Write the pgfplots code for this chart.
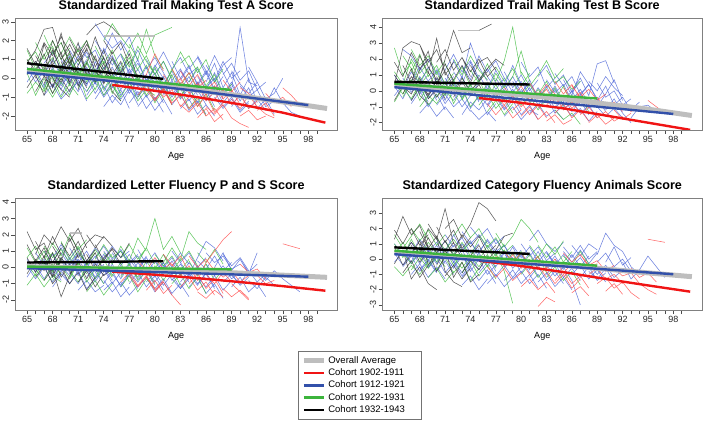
\documentclass[border=0pt]{standalone}
\usepackage{pgfplots}
\pgfplotsset{compat=1.18}
\usepackage{fontspec}
\setmainfont{Liberation Sans}
\definecolor{spblue}{RGB}{75,100,215}
\definecolor{spgreen}{RGB}{70,190,70}
\definecolor{spred}{RGB}{255,80,80}
\definecolor{spblack}{RGB}{50,50,50}
\definecolor{tred}{RGB}{240,20,20}
\definecolor{tblue}{RGB}{50,80,170}
\definecolor{tgreen}{RGB}{60,180,60}
\definecolor{tgray}{RGB}{190,190,190}
\pgfplotsset{
  panel/.style={
    scale only axis,
    xmin=63.59, xmax=101.4,
    xtick={65,68,...,98},
    minor xtick={65,...,99},
    tick align=outside,
    tick pos=left,
    major tick length=4pt, minor tick length=4pt,
    every tick/.style={black!70, line width=0.5pt},
    axis line style={black!50, line width=0.7pt},
    tick label style={font=\fontsize{9}{10}\selectfont, text=black!85},
    /pgf/number format/assume math mode=true,
    yticklabel style={rotate=90, anchor=south, inner sep=2pt},
    xticklabel style={inner sep=2pt},
    xlabel={Age},
    xlabel style={at={(axis description cs:0.5,0)}, anchor=center, yshift=-26pt, font=\fontsize{9}{10}\selectfont},
    title style={at={(axis description cs:0.5,1)}, anchor=base, yshift=2.5pt, font=\bfseries\fontsize{12.6}{14}\selectfont},
    unbounded coords=jump,
  },
  spB/.style={forget plot, line width=0.55pt, color=spblue, opacity=0.8},
  spG/.style={forget plot, line width=0.55pt, color=spgreen, opacity=0.85},
  spR/.style={forget plot, line width=0.55pt, color=spred, opacity=0.85},
  spK/.style={forget plot, line width=0.55pt, color=spblack, opacity=0.8},
  spY/.style={forget plot, line width=1.5pt, color=black!30, opacity=0.8},
  trGray/.style={line width=5pt, color=tgray},
  trR/.style={line width=2.4pt, color=tred},
  trB/.style={line width=2.4pt, color=tblue},
  trG/.style={line width=2.4pt, color=tgreen},
  trK/.style={line width=2.4pt, color=black},
}
\begin{document}
\begin{tikzpicture}
\path[use as bounding box] (0,0) rectangle (705pt,421pt);
% ---------------- Panel 1: TMT A
\begin{axis}[panel, at={(15pt,291pt)}, width=322.3pt, height=112pt,
  ymin=-2.74, ymax=3.2, ytick={-2,...,3},
  title={Standardized Trail Making Test A Score}]
\addplot[spB] coordinates {(65,0.6)(66,-0.2)(67,0.4)(68,-0.5)(69,0.2)(70,-0.3) (0,nan)
(70,1.5)(71,0.7)(72,1.4)(73,0.4)(74,1.1)(75,0.0)(76,0.8) (0,nan)
(73,2.0)(74,1.3)(75,2.4)(76,1.5)(77,2.2)(78,0.9) (0,nan)
(75,-0.5)(76,0.2)(77,-0.8)(78,-0.1)(79,-1.0)(80,-0.4)(81,-1.3) (0,nan)
(78,0.8)(79,-0.1)(80,0.5)(81,-0.3)(82,0.4)(83,-0.6)(84,0.1)(85,-0.9) (0,nan)
(80,-1.1)(81,-0.5)(82,-1.4)(83,-0.8)(84,-1.7)(85,-1.2)(86,-1.9) (0,nan)
(84,0.5)(85,1.1)(86,0.2)(87,1.2)(88,0.3)(89,-0.6)(90,2.7)(91,-0.2)(92,-0.4) (0,nan)
(86,-0.2)(87,0.8)(88,-0.5)(89,0.3)(90,-0.9)(91,0.0)(92,-1.3) (0,nan)
(88,-0.9)(89,-0.3)(90,-1.2)(91,-0.5)(92,-1.6)(93,-1.1)(94,-1.9) (0,nan)
(91,0.6)(92,-0.2)(93,-1.1)(94,-0.8)(95,0.0) (0,nan)
(93,-1.4)(94,-0.5)(95,-1.3)(96,-1.8)(97,-2.0) (0,nan)
(67,-0.9)(68,-0.3)(69,-1.1)(70,-0.6)(71,-0.2)(72,-1.2) (0,nan)
(71,0.3)(72,-0.4)(73,0.9)(74,0.0)(75,0.6)(76,-0.3) (0,nan)
(76,1.2)(77,0.3)(78,1.0)(79,-0.2)(80,0.7)(81,0.0) (0,nan)
(82,0.9)(83,0.0)(84,0.7)(85,-0.4)(86,0.3)(87,-0.7) (0,nan)
(77,-1.3)(78,-0.7)(79,-1.6)(80,-1.0)(81,-1.8) (0,nan)
(69,1.0)(70,0.2)(71,1.2)(72,0.4)(73,-0.3)(74,0.6) (0,nan)
(74,-1.5)(75,-0.9)(76,-1.4)(77,-0.6)(78,-1.1) (0,nan)
(85,1.2)(86,0.4)(87,-0.2)(88,0.7)(89,1.1) (0,nan)
(89,0.4)(90,-0.3)(91,-0.8)(92,-0.2)};
\addplot[spB] coordinates {(66,0.9)(67,0.2)(68,1.0)(69,0.1)(70,0.8)(71,-0.1) (0,nan)
(72,-0.9)(73,-0.2)(74,-1.0)(75,-0.4)(76,-1.1)(77,-0.5)(78,-1.4) (0,nan)
(74,0.5)(75,1.2)(76,0.3)(77,0.9)(78,-0.2)(79,0.6)(80,-0.5) (0,nan)
(76,-0.3)(77,0.5)(78,-0.5)(79,0.2)(80,-0.7)(81,0.1)(82,-0.9)(83,-0.2) (0,nan)
(79,1.0)(80,0.2)(81,0.9)(82,-0.1)(83,0.5)(84,-0.4) (0,nan)
(81,-0.9)(82,-0.2)(83,-1.1)(84,-0.5)(85,-1.3)(86,-0.6)(87,-1.5) (0,nan)
(83,-1.6)(84,-1.1)(85,-1.9)(86,-1.4)(87,-2.0) (0,nan)
(85,0.1)(86,-0.6)(87,0.3)(88,-0.8)(89,-0.2)(90,-1.0) (0,nan)
(87,-1.0)(88,-1.6)(89,-1.1)(90,-1.8)(91,-1.3) (0,nan)
(73,2.9)(74,2.2)(75,1.6)(76,2.0)(77,1.2) (0,nan)
(90,-0.4)(91,-1.0)(92,-0.6)(93,-1.5)(94,-1.2) (0,nan)
(68,0.3)(69,-0.6)(70,0.5)(71,-0.4)(72,0.6)(73,-0.3)};
\addplot[spB] coordinates {(68,-0.1)(69,0.7)(70,-0.2)(71,0.6)(72,-0.3)(73,0.4)(74,-0.5) (0,nan)
(70,-0.8)(71,-0.1)(72,-0.7)(73,0.1)(74,-0.9)(75,-0.2) (0,nan)
(72,0.9)(73,0.1)(74,1.6)(75,0.7)(76,1.3)(77,0.2)(78,0.8) (0,nan)
(75,0.3)(76,-0.6)(77,0.1)(78,-0.9)(79,-0.2)(80,-1.2)(81,-0.4) (0,nan)
(77,0.6)(78,1.5)(79,0.5)(80,1.1)(81,0.3)(82,-0.5) (0,nan)
(79,-0.7)(80,0.0)(81,-0.8)(82,-0.1)(83,-1.0)(84,-0.3) (0,nan)
(82,-0.6)(83,0.4)(84,-0.2)(85,0.5)(86,-0.5)(87,0.0)(88,-1.1) (0,nan)
(84,-0.9)(85,-0.2)(86,-1.1)(87,-0.4)(88,-1.3)(89,-0.7) (0,nan)
(86,0.7)(87,-0.1)(88,0.9)(89,0.0)(90,0.4) (0,nan)
(89,-1.5)(90,-0.8)(91,-1.6)(92,-1.1)(93,-1.7) (0,nan)
(66,0.1)(67,-0.5)(68,0.4)(69,-0.4)(70,0.2) (0,nan)
(73,-1.1)(74,-0.4)(75,-1.3)(76,-0.6)(77,-1.6)};
\addplot[spB] coordinates {(65,-0.2)(66,0.5)(67,-0.4)(68,0.6)(69,-0.3)(70,0.4) (0,nan)
(67,0.8)(68,1.4)(69,0.5)(70,1.2)(71,0.3)(72,1.0) (0,nan)
(69,-0.9)(70,0.0)(71,-0.7)(72,0.1)(73,-0.8)(74,-0.1) (0,nan)
(71,1.8)(72,1.1)(73,1.5)(74,0.5)(75,1.0)(76,0.1) (0,nan)
(74,-0.7)(75,0.1)(76,-0.9)(77,-0.2)(78,-1.0)(79,-0.4) (0,nan)
(76,0.6)(77,-0.2)(78,0.5)(79,-0.4)(80,0.3)(81,-0.6)(82,0.2) (0,nan)
(78,-1.5)(79,-0.9)(80,-1.7)(81,-1.1)(82,-1.9) (0,nan)
(80,0.6)(81,1.4)(82,0.5)(83,1.1)(84,0.2)(85,0.6) (0,nan)
(81,-0.3)(82,-1.0)(83,-0.4)(84,-1.2)(85,-0.6)(86,-1.4) (0,nan)
(83,-0.1)(84,0.6)(85,-0.3)(86,0.4)(87,-0.6)(88,0.1) (0,nan)
(86,-1.2)(87,-0.7)(88,-1.5)(89,-1.0)(90,-1.7)(91,-1.2) (0,nan)
(88,0.2)(89,0.8)(90,-0.1)(91,0.4)(92,-0.6)(93,-0.2)};
\addplot[spG] coordinates {(65,1.5)(66,0.5)(67,1.2)(68,2.0)(69,1.0)(70,1.6) (0,nan)
(65,-0.8)(66,-0.2)(67,-0.7)(68,0.1)(69,-1.0)(70,-0.3)(71,-0.9) (0,nan)
(67,2.3)(68,1.3)(69,1.9)(70,0.8)(71,1.5) (0,nan)
(70,0.3)(71,1.0)(72,-0.2)(73,0.5)(74,-0.6)(75,0.2)(76,-0.8) (0,nan)
(74,2.0)(75,2.9)(76,2.2)(77,1.6)(78,2.4)(79,1.3)(80,2.3)(81,2.5)(82,2.7) (0,nan)
(76,1.3)(77,0.6)(78,1.7)(79,0.9)(80,0.2)(81,0.9)(82,0.0) (0,nan)
(78,0.5)(79,1.2)(80,0.2)(81,-0.4)(82,0.4)(83,1.4)(84,0.6) (0,nan)
(80,0.1)(81,-0.7)(82,0.2)(83,-1.0)(84,-0.3)(85,-1.5)(86,-0.8)(87,-1.7) (0,nan)
(68,-0.2)(69,0.6)(70,-0.4)(71,0.4)(72,-1.1)(73,-0.5) (0,nan)
(72,1.2)(73,0.2)(74,0.9)(75,-0.1)(76,0.6)(77,1.5)(78,0.4) (0,nan)
(83,0.8)(84,1.2)(85,0.3)(86,1.0)(87,-0.2)(88,0.5) (0,nan)
(66,0.4)(67,-0.6)(68,0.5)(69,-0.1)(70,0.7) (0,nan)
(75,-0.3)(76,-1.0)(77,-0.2)(78,-1.2)(79,-0.6)(80,-0.9) (0,nan)
(81,-0.2)(82,-1.2)(83,-0.5)(84,-1.6)(85,-1.0)(86,-2.0) (0,nan)
(69,1.3)(70,2.2)(71,1.4)(72,2.0)(73,0.9) (0,nan)
(77,1.8)(78,1.0)(79,2.6)(80,1.2)(81,0.5)};
\addplot[spG] coordinates {(66,1.9)(67,1.0)(68,1.7)(69,0.6)(70,1.3)(71,0.2) (0,nan)
(71,-0.5)(72,0.3)(73,-0.6)(74,0.4)(75,-0.8)(76,0.1) (0,nan)
(73,1.7)(74,0.8)(75,1.5)(76,0.4)(77,1.1)(78,0.0) (0,nan)
(79,-0.3)(80,0.6)(81,-0.5)(82,0.5)(83,-0.4)(84,0.3)(85,-0.6) (0,nan)
(65,0.3)(66,-0.9)(67,0.0)(68,-0.8)(69,0.2) (0,nan)
(84,-0.2)(85,0.6)(86,-0.4)(87,0.2)(88,-0.9)(89,-0.3) (0,nan)
(77,-0.6)(78,0.2)(79,-0.9)(80,-0.2)(81,-1.1) (0,nan)
(70,0.9)(71,0.1)(72,0.8)(73,-0.1)(74,1.2) (0,nan)
(65,0.9)(66,1.4)(67,0.5)(68,1.1)(69,0.2) (0,nan)
(67,-0.3)(68,-1.0)(69,-0.2)(70,-0.9)(71,0.1) (0,nan)
(69,0.4)(70,1.0)(71,0.2)(72,0.9)(73,-0.2)(74,0.6) (0,nan)
(72,-0.7)(73,0.0)(74,-0.9)(75,-0.3)(76,-1.2) (0,nan)
(75,1.0)(76,0.2)(77,0.9)(78,-0.1)(79,0.7)(80,-0.4) (0,nan)
(78,-1.0)(79,-0.3)(80,-1.3)(81,-0.6)(82,-1.4)};
\addplot[spR] coordinates {(77,0.3)(78,-0.4)(79,0.2)(80,1.3)(81,0.4) (0,nan)
(79,-0.6)(80,-1.2)(81,-0.5)(82,-1.3)(83,-0.9)(84,-1.6)(85,-1.1) (0,nan)
(81,0.2)(82,-0.5)(83,0.0)(84,-0.8)(85,-0.3)(86,-1.2)(87,-0.7) (0,nan)
(83,-1.4)(84,-1.8)(85,-1.3)(86,-2.0)(87,-1.6)(88,-2.2) (0,nan)
(85,-0.2)(86,-0.9)(87,-0.4)(88,-1.1)(89,-0.6)(90,-1.4) (0,nan)
(86,-1.5)(87,-1.9)(88,-1.4)(89,-2.1)(90,-2.4)(91,-2.6) (0,nan)
(88,-0.1)(89,-0.7)(90,-0.2) (0,nan)
(89,-1.1)(90,-1.6)(91,-0.9)(92,-1.5)(93,-1.9)(94,-2.1) (0,nan)
(90,-0.5)(91,-0.8)(92,-1.2)(93,-1.0) (0,nan)
(95,-0.5)(96,-0.9)(97,-1.4) (0,nan)
(80,-0.2)(81,-1.0)(82,-0.6)(83,-1.5)(84,-1.0) (0,nan)
(82,0.5)(83,-0.3)(84,0.3)(85,-0.5)(86,-0.1) (0,nan)
(84,-0.7)(85,-1.5)(86,-0.9)(87,-1.8)(88,-1.3) (0,nan)
(92,-1.7)(93,-1.3)(94,-2.0) (0,nan)
(78,-0.9)(79,-0.3)(80,-1.1)(81,-0.6)(82,-1.4) (0,nan)
(83,0.4)(84,-0.4)(85,0.2)(86,-0.6)(87,-0.2)(88,-1.0) (0,nan)
(85,-2.1)(86,-1.6)(87,-2.3)(88,-1.9) (0,nan)
(87,-1.1)(88,-0.6)(89,-1.4)(90,-0.9)(91,-1.6)(92,-1.2) (0,nan)
(90,-2.0)(91,-1.7)(92,-2.2)(93,-2.0) (0,nan)
(93,-0.8)(94,-1.3)(95,-1.0)(96,-1.5)};
\addplot[spK] coordinates {(65,0.8)(66,1.5)(67,2.6)(68,2.7)(69,1.2)(70,0.5) (0,nan)
(65,-0.5)(66,0.2)(67,-0.9)(68,0.3)(69,-0.2)(70,0.6)(71,0.1) (0,nan)
(66,1.2)(67,0.4)(68,2.0)(69,1.0)(70,1.8)(71,0.9)(72,1.5) (0,nan)
(67,-0.3)(68,0.9)(69,2.4)(70,0.6)(71,1.9)(72,0.2) (0,nan)
(68,1.6)(69,0.3)(70,1.1)(71,-0.4)(72,0.8)(73,2.2)(74,1.0) (0,nan)
(65,1.0)(66,0.4)(67,1.3)(68,0.0)(69,-0.6)(70,-1.0) (0,nan)
(72,2.3)(73,2.8)(74,3.0)(75,2.7)(76,2.2) (0,nan)
(69,1.9)(70,0.8)(71,1.6)(72,0.1)(73,1.2)(74,-0.3)(75,0.5) (0,nan)
(66,0.0)(67,1.8)(68,0.7)(69,1.4)(70,-0.2) (0,nan)
(70,2.1)(71,1.2)(72,2.0)(73,0.6)(74,1.5)(75,0.2)(76,0.9)(77,-0.5) (0,nan)
(73,0.4)(74,-0.2)(75,1.1)(76,0.3)(77,1.3)(78,0.0) (0,nan)
(67,0.7)(68,-0.5)(69,0.6)(70,1.4)(71,0.2)(72,-0.3) (0,nan)
(71,-0.6)(72,0.5)(73,-0.2)(74,0.8)(75,-0.7)(76,-1.2) (0,nan)
(65,0.2)(66,0.9)(67,0.1)(68,1.5)(69,0.4) (0,nan)
(65,1.6)(66,0.7)(67,1.9)(68,1.2)(69,2.2)(70,1.4) (0,nan)
(67,0.2)(68,-0.8)(69,0.0)(70,-0.7)(71,0.3)(72,-0.5) (0,nan)
(69,0.9)(70,-0.3)(71,0.7)(72,1.6)(73,0.3)(74,1.1)(75,-0.1) (0,nan)
(66,-0.7)(67,0.1)(68,-0.4)(69,0.5)(70,0.0) (0,nan)
(74,2.0)(75,1.3)(76,1.9)(77,0.7) (0,nan)
(71,1.0)(72,1.8)(73,1.0)(74,0.4)(75,1.4)};
\addplot[spY] coordinates {(74,2.25)(80,2.25)};
\addplot[trGray] coordinates {(65,0.42)(70,0.2)(75,-0.05)(80,-0.33)(85,-0.63)(90,-0.93)(95,-1.25)(100.2,-1.6)};
\addplot[trR] coordinates {(75,-0.35)(80,-0.66)(85,-1.0)(90,-1.38)(95,-1.82)(100,-2.35)};
\addplot[trB] coordinates {(65,0.3)(75,-0.15)(85,-0.67)(98,-1.42)};
\addplot[trG] coordinates {(65,0.5)(89,-0.62)};
\addplot[trK] coordinates {(65,0.8)(81,-0.03)};
\end{axis}
% ---------------- Panel 2: TMT B
\begin{axis}[panel, at={(382.5pt,291pt)}, width=319.5pt, height=112pt,
  ymin=-2.46, ymax=4.58, ytick={-2,...,4},
  title={Standardized Trail Making Test B Score}]
\addplot[spB] coordinates {(65,0.3)(66,-0.5)(67,0.6)(68,-0.2)(69,0.5)(70,-0.6) (0,nan)
(66,2.6)(67,2.2)(68,1.3)(69,2.0)(70,1.0) (0,nan)
(70,1.4)(71,0.4)(72,1.9)(73,0.8)(74,3.0)(75,1.5)(76,0.6) (0,nan)
(72,-0.6)(73,0.2)(74,-1.1)(75,-0.3)(76,-1.5)(77,-0.8) (0,nan)
(75,1.0)(76,0.1)(77,1.3)(78,0.3)(79,1.6)(80,0.4) (0,nan)
(77,-0.4)(78,-1.2)(79,-0.6)(80,-1.5)(81,-0.9)(82,-1.8) (0,nan)
(79,0.6)(80,-0.2)(81,0.7)(82,-0.5)(83,0.3)(84,-0.8) (0,nan)
(82,0.9)(83,1.6)(84,0.4)(85,1.0)(86,-0.1)(87,0.6) (0,nan)
(84,-1.0)(85,-0.4)(86,-1.3)(87,-0.6)(88,-1.5) (0,nan)
(86,0.0)(87,0.8)(88,-0.3)(89,1.7)(90,1.9)(91,0.5) (0,nan)
(88,-0.4)(89,-1.0)(90,-0.2)(91,0.7)(92,-0.6) (0,nan)
(90,-1.2)(91,-0.5)(92,-1.4)(93,-2.0) (0,nan)
(93,-1.7)(94,-1.0)(95,-0.9)(96,-1.3) (0,nan)
(68,-1.4)(69,-0.8)(70,-1.6)(71,-1.0)(72,-1.7) (0,nan)
(71,0.8)(72,0.0)(73,0.9)(74,-0.2)(75,0.5) (0,nan)
(80,1.8)(81,0.9)(82,1.5)(83,0.2)(84,0.8) (0,nan)
(85,0.7)(86,-0.3)(87,1.2)(88,0.4)(89,-0.5)};
\addplot[spB] coordinates {(65,1.0)(66,0.1)(67,1.2)(68,0.4)(69,1.5)(70,0.5) (0,nan)
(67,-0.8)(68,0.0)(69,-1.0)(70,-0.2)(71,-1.2) (0,nan)
(70,0.3)(71,-0.6)(72,0.6)(73,-0.4)(74,0.4)(75,-0.7) (0,nan)
(73,1.6)(74,0.7)(75,2.2)(76,1.2)(77,1.9)(78,0.8) (0,nan)
(76,-1.0)(77,-0.2)(78,-1.1)(79,-0.3)(80,-1.2) (0,nan)
(78,1.2)(79,0.2)(80,1.0)(81,0.0)(82,0.7) (0,nan)
(81,-1.4)(82,-0.8)(83,-1.6)(84,-1.2)(85,-1.8) (0,nan)
(83,-0.5)(84,0.3)(85,-0.7)(86,0.0)(87,-0.9) (0,nan)
(86,-1.6)(87,-1.1)(88,-1.9)(89,-1.3) (0,nan)
(88,0.6)(89,0.0)(90,0.9)(91,0.2)(92,-0.3) (0,nan)
(74,-1.2)(75,-1.8)(76,-1.3)(77,-1.9) (0,nan)
(91,-0.9)(92,-0.4)(93,-1.2)(94,-0.7)};
\addplot[spB] coordinates {(68,0.4)(69,-0.4)(70,0.8)(71,-0.1)(72,0.5)(73,-0.5) (0,nan)
(70,-0.9)(71,-0.2)(72,-1.0)(73,-0.5)(74,-1.3) (0,nan)
(72,1.2)(73,0.4)(74,1.8)(75,0.6)(76,1.4)(77,0.5) (0,nan)
(75,-0.2)(76,-0.9)(77,0.0)(78,-0.7)(79,0.1)(80,-0.8) (0,nan)
(77,0.8)(78,0.0)(79,0.9)(80,-0.1)(81,0.5)(82,-0.4) (0,nan)
(80,-0.5)(81,0.2)(82,-0.9)(83,-0.2)(84,-1.1)(85,-0.5) (0,nan)
(83,0.7)(84,-0.1)(85,0.4)(86,-0.6)(87,0.1)(88,-0.8) (0,nan)
(85,-1.2)(86,-0.6)(87,-1.4)(88,-0.9)(89,-1.7) (0,nan)
(87,-0.3)(88,0.4)(89,-0.6)(90,0.3)(91,-0.9) (0,nan)
(89,-1.0)(90,-1.6)(91,-1.1)(92,-1.7) (0,nan)
(66,0.8)(67,-0.1)(68,0.9)(69,0.0)(70,0.6) (0,nan)
(73,-1.5)(74,-0.7)(75,-1.2)(76,-0.5)};
\addplot[spB] coordinates {(65,-0.3)(66,0.4)(67,-0.6)(68,0.2)(69,-0.7) (0,nan)
(67,0.6)(68,1.5)(69,0.6)(70,1.3)(71,0.2)(72,0.9) (0,nan)
(69,-0.5)(70,0.2)(71,-0.8)(72,-0.1)(73,-1.0)(74,-0.3) (0,nan)
(71,1.3)(72,2.3)(73,1.2)(74,1.9)(75,0.8) (0,nan)
(74,0.2)(75,-0.6)(76,0.4)(77,-0.5)(78,0.5)(79,-0.6) (0,nan)
(76,0.9)(77,0.1)(78,0.8)(79,-0.1)(80,0.6)(81,-0.3) (0,nan)
(78,-1.6)(79,-1.0)(80,-1.8)(81,-1.2)(82,-1.5) (0,nan)
(80,0.1)(81,-0.7)(82,0.2)(83,-0.6)(84,0.1)(85,-0.9) (0,nan)
(82,-1.1)(83,-0.4)(84,-1.4)(85,-0.9)(86,-1.6) (0,nan)
(84,1.1)(85,0.3)(86,0.9)(87,-0.2)(88,0.4) (0,nan)
(86,-0.8)(87,-0.2)(88,-1.1)(89,-0.5)(90,-1.3) (0,nan)
(89,0.5)(90,-0.4)(91,0.0)(92,-0.9)(93,-0.5)};
\addplot[spG] coordinates {(65,2.7)(66,1.0)(67,1.8)(68,0.6)(69,1.4) (0,nan)
(65,-0.7)(66,0.2)(67,-0.5)(68,0.5)(69,-0.9)(70,-0.2) (0,nan)
(67,1.2)(68,2.3)(69,0.9)(70,1.6)(71,0.4)(72,1.1) (0,nan)
(70,-0.4)(71,0.6)(72,-0.8)(73,0.2)(74,-1.0)(75,-0.3) (0,nan)
(74,1.3)(75,0.5)(76,1.7)(77,0.6)(78,1.9)(79,4.0)(80,1.0) (0,nan)
(76,0.0)(77,1.1)(78,0.2)(79,0.9)(80,2.5)(81,0.6) (0,nan)
(78,-0.7)(79,-0.1)(80,-0.9)(81,-0.3)(82,-1.2)(83,-0.5) (0,nan)
(80,1.2)(81,0.3)(82,1.0)(83,1.9)(84,0.8)(85,1.4) (0,nan)
(82,-0.2)(83,0.6)(84,-0.6)(85,0.3)(86,-0.9)(87,-0.4)(88,-1.3) (0,nan)
(68,-1.0)(69,-0.3)(70,-0.8)(71,0.0)(72,-0.6) (0,nan)
(72,2.0)(73,1.0)(74,2.2)(75,1.3)(76,0.7) (0,nan)
(84,-1.2)(85,-1.8)(86,-1.4)(87,-2.1) (0,nan)
(66,2.2)(67,1.4)(68,0.4)(69,1.0) (0,nan)
(75,-0.9)(76,-0.2)(77,-1.1)(78,-0.5)(79,-1.4) (0,nan)
(65,1.2)(66,0.4)(67,2.0)(68,1.1)(69,1.8) (0,nan)
(69,0.3)(70,1.2)(71,-0.1)(72,0.7)(73,-0.3) (0,nan)
(71,1.7)(72,0.6)(73,1.5)(74,0.3)(75,1.0) (0,nan)
(73,-0.6)(74,0.4)(75,-0.5)(76,0.5)(77,-0.4)(78,0.3) (0,nan)
(77,1.5)(78,0.6)(79,1.4)(80,0.3)(81,1.1) (0,nan)
(81,-0.8)(82,0.1)(83,-0.7)(84,0.2)(85,-1.0) (0,nan)
(83,1.3)(84,0.5)(85,0.9)(86,0.1)(87,0.6) (0,nan)
(66,-0.4)(67,0.6)(68,-0.6)(69,0.4) (0,nan)
(65,0.5)(66,-0.2)(67,0.7)(68,-0.1)(69,0.6) (0,nan)
(67,2.6)(68,1.6)(69,2.2)(70,1.1)(71,1.9) (0,nan)
(70,0.7)(71,-0.3)(72,0.4)(73,-0.5)(74,0.5) (0,nan)
(73,0.8)(74,-0.1)(75,0.7)(76,-0.4)(77,0.4)(78,-0.6) (0,nan)
(76,-1.3)(77,-0.6)(78,-1.5)(79,-0.8) (0,nan)
(79,0.5)(80,-0.3)(81,0.4)(82,-0.5)(83,0.2)};
\addplot[spR] coordinates {(76,-0.8)(77,-1.5)(78,-0.9)(79,-1.7)(80,-1.2) (0,nan)
(78,0.2)(79,-0.4)(80,0.3)(81,-0.6)(82,-0.1) (0,nan)
(80,-1.6)(81,-1.0)(82,-1.8)(83,-1.3)(84,-2.0) (0,nan)
(82,-0.5)(83,0.1)(84,-0.8)(85,-0.3)(86,-1.1)(87,-0.6) (0,nan)
(84,-1.4)(85,-0.8)(86,-1.7)(87,-1.2)(88,-1.9) (0,nan)
(85,0.2)(86,-0.6)(87,-0.1)(88,-0.9) (0,nan)
(87,-1.5)(88,-1.0)(89,-1.7)(90,-1.3)(91,-1.9)(92,-1.6) (0,nan)
(89,-0.4)(90,-1.1)(91,-0.7)(92,-1.3) (0,nan)
(95,-0.6)(96,-1.0)(97,-1.4) (0,nan)
(79,-1.2)(80,-0.7)(81,-1.5)(82,-0.9)(83,-1.7) (0,nan)
(81,0.5)(82,-0.3)(83,0.4)(84,-0.2) (0,nan)
(83,-1.9)(84,-1.5)(85,-2.1)(86,-1.8) (0,nan)
(91,-1.2)(92,-1.8)(93,-1.4) (0,nan)
(77,-0.2)(78,-0.9)(79,-0.3)(80,-1.0)(81,-0.4) (0,nan)
(83,-0.9)(84,-0.3)(85,-1.2)(86,-0.7)(87,-1.4) (0,nan)
(86,0.3)(87,-0.4)(88,0.1)(89,-0.6)(90,-0.2) (0,nan)
(88,-2.0)(89,-1.5)(90,-2.1)(91,-1.7) (0,nan)
(84,0.6)(85,-0.2)(86,0.4)(87,-0.5) (0,nan)
(92,-0.8)(93,-1.3)(94,-1.0)};
\addplot[spK] coordinates {(65,0.4)(66,2.7)(67,3.1)(68,2.9)(69,1.5)(70,0.7) (0,nan)
(65,-0.6)(66,0.3)(67,-0.2)(68,0.8)(69,-0.5)(70,0.1) (0,nan)
(66,1.6)(67,0.5)(68,2.2)(69,1.1)(70,3.3)(71,1.0)(72,1.8) (0,nan)
(67,0.2)(68,1.3)(69,2.5)(70,0.4)(71,1.7)(72,0.6) (0,nan)
(69,1.2)(70,0.1)(71,2.0)(72,3.8)(73,2.4)(74,2.7) (0,nan)
(65,1.0)(66,0.2)(67,1.4)(68,-0.3)(69,-0.8) (0,nan)
(70,0.9)(71,-0.2)(72,0.7)(73,1.6)(74,0.5)(75,1.8)(76,2.1)(77,1.3) (0,nan)
(68,2.9)(69,1.8)(70,2.6)(71,1.2)(72,0.3) (0,nan)
(72,-0.4)(73,0.6)(74,-0.3)(75,0.4)(76,-0.6) (0,nan)
(73,2.1)(74,1.2)(75,2.0)(76,0.9)(77,1.5) (0,nan)
(66,-0.2)(67,0.9)(68,0.1)(69,0.6)(70,-0.4)(71,0.3) (0,nan)
(75,3.8)(76.5,4.2) (0,nan)
(65,1.8)(66,0.9)(67,2.4)(68,1.4)(69,2.0) (0,nan)
(67,-0.6)(68,0.3)(69,-0.2)(70,0.6)(71,-0.5) (0,nan)
(70,1.8)(71,2.6)(72,1.3)(73,2.1)(74,0.9) (0,nan)
(71,0.5)(72,-0.2)(73,0.8)(74,0.0)(75,0.6)(76,1.2) (0,nan)
(68,0.8)(69,-0.3)(70,0.4)(71,1.3) (0,nan)
(74,1.6)(75,0.7)(76,1.4)(77,2.0)(78,1.6)};
\addplot[spY] coordinates {(72.5,3.8)(75,3.8)};
\addplot[trGray] coordinates {(65,0.4)(75,0.0)(85,-0.5)(95,-1.15)(100.2,-1.55)};
\addplot[trR] coordinates {(75,-0.45)(80,-0.75)(85,-1.1)(90,-1.55)(95,-2.0)(100,-2.45)};
\addplot[trB] coordinates {(65,0.23)(98,-1.45)};
\addplot[trG] coordinates {(65,0.45)(89,-0.48)};
\addplot[trK] coordinates {(65,0.57)(81,0.4)};
\end{axis}
% ---------------- Panel 3: Letter fluency (holds the legend)
\begin{axis}[panel, at={(15pt,111pt)}, width=322.3pt, height=112pt,
  ymin=-2.615, ymax=4.26, ytick={-2,...,4},
  title={Standardized Letter Fluency P and S Score},
  legend style={at={(0.878,-0.366)}, anchor=north west, draw=black!55, line width=0.7pt,
    font=\fontsize{9.5}{10.5}\selectfont, inner xsep=3pt, inner ysep=3pt,
    row sep=0pt, legend cell align=left},
  legend image code/.code={\draw[#1] (0pt,0pt) -- (20pt,0pt);}]
\addplot[spB] coordinates {(65,0.5)(66,-0.3)(67,0.4)(68,-0.6)(69,0.1)(70,-0.5) (0,nan)
(68,-1.2)(69,-0.4)(70,-1.0)(71,-0.2)(72,-1.3)(73,-0.7) (0,nan)
(70,1.2)(71,0.3)(72,1.0)(73,0.0)(74,0.8)(75,-0.2) (0,nan)
(72,0.4)(73,1.2)(74,0.5)(75,1.3)(76,0.6)(77,1.0) (0,nan)
(74,-0.8)(75,-1.5)(76,-0.9)(77,-1.7)(78,-1.1) (0,nan)
(76,0.1)(77,-0.6)(78,0.3)(79,-0.4)(80,0.4)(81,-0.5) (0,nan)
(78,1.1)(79,0.2)(80,0.9)(81,0.0)(82,0.6)(83,-0.3) (0,nan)
(80,-1.3)(81,-0.7)(82,-1.6)(83,-1.0)(84,-1.8) (0,nan)
(83,0.3)(84,-0.5)(85,0.6)(86,1.6)(87,1.2)(88,0.4) (0,nan)
(85,-0.6)(86,-1.2)(87,-0.5)(88,-1.4)(89,-0.8) (0,nan)
(87,0.0)(88,0.9)(89,-0.2)(90,0.5)(91,-0.4)(92,0.9) (0,nan)
(89,-1.2)(90,-0.6)(91,-1.5)(92,-1.0)(93,-1.8) (0,nan)
(92,-0.3)(93,-0.8)(94,-0.2)(95,-0.7)(96,-1.1)(97,-1.5) (0,nan)
(66,0.9)(67,0.1)(68,0.8)(69,-0.1) (0,nan)
(71,-1.4)(72,-0.8)(73,-1.5)(74,-1.1) (0,nan)
(81,0.8)(82,0.0)(83,0.9)(84,0.2) (0,nan)
(90,0.5)(91,-0.3)(92,0.2)};
\addplot[spB] coordinates {(65,-0.6)(66,0.2)(67,-0.7)(68,0.1)(69,-0.8) (0,nan)
(67,1.0)(68,0.3)(69,1.2)(70,0.2)(71,0.9) (0,nan)
(69,-0.2)(70,0.6)(71,-0.5)(72,0.3)(73,-0.6)(74,0.2) (0,nan)
(73,-0.3)(74,-1.0)(75,-0.2)(76,-1.2)(77,-0.4)(78,-1.3) (0,nan)
(75,0.9)(76,0.1)(77,0.8)(78,-0.1)(79,0.7) (0,nan)
(77,-1.0)(78,-0.3)(79,-1.2)(80,-0.5)(81,-1.4) (0,nan)
(79,0.1)(80,-0.6)(81,0.3)(82,-0.8)(83,-0.1)(84,-0.9) (0,nan)
(82,1.0)(83,0.3)(84,0.9)(85,0.0)(86,0.6) (0,nan)
(84,-1.2)(85,-0.6)(86,-1.6)(87,-1.0)(88,-1.9) (0,nan)
(86,0.2)(87,-0.5)(88,0.1)(89,-0.7)(90,-0.3) (0,nan)
(88,0.8)(89,0.1)(90,0.6)(91,-0.2) (0,nan)
(91,-0.8)(92,-1.3)(93,-0.6)(94,-1.1)};
\addplot[spB] coordinates {(66,-0.2)(67,0.5)(68,-0.4)(69,0.4)(70,-0.3)(71,0.5) (0,nan)
(68,0.6)(69,1.4)(70,0.5)(71,1.2)(72,0.2) (0,nan)
(70,-0.3)(71,-1.0)(72,-0.1)(73,-0.9)(74,0.0)(75,-0.8) (0,nan)
(72,-0.6)(73,0.3)(74,-0.5)(75,0.2)(76,-0.7)(77,0.1) (0,nan)
(74,1.0)(75,0.3)(76,1.1)(77,0.2)(78,0.7)(79,-0.2) (0,nan)
(76,-0.5)(77,0.3)(78,-0.7)(79,-0.1)(80,-0.9)(81,-0.2) (0,nan)
(78,-1.2)(79,-0.6)(80,-1.5)(81,-0.9)(82,-1.7) (0,nan)
(80,0.5)(81,-0.3)(82,0.4)(83,-0.5)(84,0.3)(85,-0.4) (0,nan)
(82,-0.7)(83,-1.3)(84,-0.4)(85,-1.1)(86,-0.3)(87,-1.2) (0,nan)
(85,0.4)(86,-0.1)(87,0.7)(88,-0.2)(89,0.3) (0,nan)
(88,-0.9)(89,-0.4)(90,-1.1)(91,-0.6) (0,nan)
(74,-1.4)(75,-0.9)(76,-1.8)(77,-1.2)};
\addplot[spB] coordinates {(65,0.1)(66,-0.7)(67,0.0)(68,-0.9)(69,-0.2)(70,-1.0) (0,nan)
(67,0.3)(68,-0.2)(69,0.6)(70,-0.1)(71,0.5)(72,-0.3) (0,nan)
(69,0.9)(70,0.1)(71,0.8)(72,0.0)(73,0.7)(74,-0.1) (0,nan)
(71,-0.4)(72,0.3)(73,-0.7)(74,-0.1)(75,-1.0)(76,-0.3) (0,nan)
(73,0.6)(74,1.3)(75,0.5)(76,1.0)(77,0.3)(78,0.8) (0,nan)
(75,-0.4)(76,-1.1)(77,-0.3)(78,-0.9)(79,-0.2)(80,-1.1) (0,nan)
(77,0.5)(78,-0.2)(79,0.6)(80,-0.2)(81,0.3)(82,-0.6) (0,nan)
(79,-0.9)(80,-0.3)(81,-1.1)(82,-0.4)(83,-1.3)(84,-0.7) (0,nan)
(81,0.1)(82,-0.4)(83,0.2)(84,-0.6)(85,0.1)(86,-0.8) (0,nan)
(83,-0.9)(84,-0.2)(85,-1.0)(86,-0.4)(87,-1.3) (0,nan)
(86,0.9)(87,0.3)(88,0.7)(89,-0.1)(90,0.2) (0,nan)
(89,-0.5)(90,-1.0)(91,-0.2)(92,-0.9)(93,-0.4)};
\addplot[spG] coordinates {(65,1.2)(66,0.3)(67,1.0)(68,-0.2)(69,0.6) (0,nan)
(65,-1.1)(66,-0.4)(67,-1.2)(68,-0.5)(69,-0.9) (0,nan)
(67,0.5)(68,1.5)(69,0.7)(70,2.0)(71,1.1)(72,1.7) (0,nan)
(70,-0.6)(71,0.2)(72,-0.9)(73,-0.1)(74,-1.0) (0,nan)
(74,0.9)(75,0.2)(76,1.3)(77,0.4)(78,1.8)(79,1.0) (0,nan)
(76,-1.2)(77,-0.5)(78,-1.5)(79,-0.7)(80,-1.3) (0,nan)
(78,0.3)(79,1.2)(80,3.0)(81,1.1)(82,1.9)(83,0.9) (0,nan)
(80,-0.1)(81,0.8)(82,-0.3)(83,0.5)(84,2.2)(85,1.5)(86,1.1) (0,nan)
(82,-1.0)(83,-0.4)(84,-1.3)(85,-0.6)(86,-1.6) (0,nan)
(84,0.4)(85,-0.5)(86,0.2)(87,-0.8)(88,-0.1) (0,nan)
(69,1.6)(70,0.5)(71,1.3)(72,0.1)(73,0.9) (0,nan)
(72,-1.5)(73,-0.8)(74,-1.7)(75,-1.0) (0,nan)
(66,-0.1)(67,-0.8)(68,0.2)(69,-0.4) (0,nan)
(77,0.0)(78,-0.6)(79,0.4)(80,-0.4) (0,nan)
(65,0.6)(66,1.3)(67,0.2)(68,0.9)(69,0.0) (0,nan)
(68,-0.8)(69,0.1)(70,-0.7)(71,0.3)(72,-0.4) (0,nan)
(71,0.9)(72,0.2)(73,1.1)(74,0.3)(75,0.8) (0,nan)
(73,-0.2)(74,0.5)(75,-0.5)(76,0.3)(77,-0.9) (0,nan)
(76,0.6)(77,1.4)(78,0.5)(79,1.2)(80,0.2) (0,nan)
(79,-0.6)(80,0.1)(81,-0.8)(82,0.0)(83,-1.1) (0,nan)
(81,0.3)(82,1.2)(83,0.4)(84,1.0)(85,0.1) (0,nan)
(85,0.9)(86,0.3)(87,1.1)(88,0.2) (0,nan)
(65,0.2)(66,-0.5)(67,0.4)(68,-0.3)(69,0.5) (0,nan)
(67,1.3)(68,0.6)(69,1.1)(70,0.3)(71,1.0) (0,nan)
(70,-0.2)(71,-0.9)(72,0.0)(73,-0.7)(74,0.1)(75,-0.6) (0,nan)
(73,0.5)(74,1.4)(75,0.6)(76,1.0)(77,0.1) (0,nan)
(76,-0.6)(77,0.2)(78,-0.8)(79,-0.2)(80,-1.0) (0,nan)
(80,0.8)(81,0.1)(82,0.7)(83,-0.2)(84,0.5)};
\addplot[spR] coordinates {(76,-0.9)(77,-0.3)(78,-1.1)(79,-0.5)(80,-1.3) (0,nan)
(78,0.4)(79,-0.2)(80,0.6)(81,-0.1)(82,0.3) (0,nan)
(80,-1.5)(81,-0.9)(82,-1.7)(83,-2.3) (0,nan)
(82,0.2)(83,-0.5)(84,0.1)(85,-0.8)(86,0.3)(87,1.0)(88,1.7)(89,2.2) (0,nan)
(84,-1.0)(85,-0.4)(86,-1.3)(87,-0.7)(88,-1.6) (0,nan)
(85,-1.5)(86,-1.9)(87,-1.4)(88,-1.8) (0,nan)
(87,0.0)(88,-0.6)(89,-0.2)(90,-0.9)(91,-0.5) (0,nan)
(89,-1.0)(90,-1.5)(91,-2.0) (0,nan)
(95,1.45)(97,1.15) (0,nan)
(79,-1.4)(80,-0.8)(81,-1.6)(82,-1.1) (0,nan)
(81,0.8)(82,0.1)(83,0.7)(84,-0.3) (0,nan)
(90,0.2)(91,-0.3)(92,-0.1)(93,-0.7) (0,nan)
(77,-0.5)(78,-1.2)(79,-0.6)(80,-1.4)(81,-0.8) (0,nan)
(83,-1.2)(84,-0.6)(85,-1.4)(86,-0.9)(87,-1.7) (0,nan)
(86,-0.4)(87,-1.0)(88,-0.3)(89,-0.9) (0,nan)
(88,-1.3)(89,-1.8)(90,-1.4)(91,-1.9) (0,nan)
(84,0.7)(85,0.0)(86,0.5)(87,-0.2) (0,nan)
(92,-0.5)(93,-1.0)(94,-0.8)};
\addplot[spK] coordinates {(65,2.2)(66,1.1)(67,1.5)(68,0.3)(69,1.2) (0,nan)
(65,-0.4)(66,0.5)(67,-0.2)(68,0.9)(69,-0.6)(70,0.2) (0,nan)
(66,0.8)(67,2.0)(68,1.4)(69,2.5)(70,1.6)(71,2.4)(72,1.2) (0,nan)
(67,-0.8)(68,-0.1)(69,-1.8)(70,-0.5)(71,0.3) (0,nan)
(68,1.3)(69,0.4)(70,1.8)(71,0.6)(72,1.5)(73,2.0)(74,1.8) (0,nan)
(69,0.0)(70,-1.0)(71,-0.3)(72,-1.4)(73,-0.6) (0,nan)
(70,2.1)(71,1.0)(72,0.2)(73,0.9)(74,-0.3)(75,0.5) (0,nan)
(72,0.8)(73,-0.2)(74,0.6)(75,1.1)(76,0.2) (0,nan)
(65,0.6)(66,-0.3)(67,0.7)(68,-0.5)(69,0.4) (0,nan)
(71,-0.9)(72,-0.2)(73,-1.2)(74,-0.4) (0,nan)
(66,1.6)(67,0.6)(68,1.9)(69,0.8) (0,nan)
(73,1.4)(74,0.4)(75,1.2)(76,0.6)(77,1.5) (0,nan)
(65,1.4)(66,0.4)(67,1.2)(68,0.0)(69,0.9) (0,nan)
(67,0.3)(68,-0.6)(69,0.6)(70,-0.2)(71,0.8) (0,nan)
(69,1.5)(70,0.7)(71,1.6)(72,0.4)(73,1.1) (0,nan)
(70,-0.4)(71,0.4)(72,-0.7)(73,0.2)(74,-0.5)(75,-0.1) (0,nan)
(66,-0.6)(67,0.1)(68,-1.0)(69,-0.3) (0,nan)
(72,2.0)(73,1.2)(74,1.9)(75,1.3)};
\addplot[spY] coordinates {(70,2.1)(71.5,2.1)};
\addplot[trGray] coordinates {(65,0.05)(80,-0.15)(90,-0.35)(100.2,-0.61)};
\addlegendentry{\makebox[88pt][l]{Overall Average}}
\addplot[trR] coordinates {(75,-0.26)(80,-0.45)(85,-0.66)(90,-0.9)(95,-1.15)(100,-1.43)};
\addlegendentry{Cohort 1902-1911}
\addplot[trB] coordinates {(65,-0.05)(98,-0.57)};
\addlegendentry{Cohort 1912-1921}
\addplot[trG] coordinates {(65,0.05)(89,-0.12)};
\addlegendentry{Cohort 1922-1931}
\addplot[trK] coordinates {(65,0.3)(81,0.38)};
\addlegendentry{Cohort 1932-1943}
\end{axis}
% ---------------- Panel 4: Category fluency
\begin{axis}[panel, at={(382.5pt,111pt)}, width=319.5pt, height=112pt,
  ymin=-3.33, ymax=4.0, ytick={-3,...,3},
  title={Standardized Category Fluency Animals Score}]
\addplot[spB] coordinates {(65,0.4)(66,-0.4)(67,0.5)(68,-0.3)(69,0.6)(70,-0.2) (0,nan)
(67,-1.0)(68,-0.3)(69,-1.2)(70,-0.5)(71,-1.3) (0,nan)
(70,1.3)(71,0.5)(72,1.6)(73,0.6)(74,1.2)(75,0.1) (0,nan)
(72,-0.5)(73,0.3)(74,-0.8)(75,0.0)(76,-1.0)(77,-0.4) (0,nan)
(74,2.1)(75,1.4)(76,2.0)(77,1.0)(78,1.5) (0,nan)
(77,0.7)(78,-0.1)(79,0.8)(80,-0.3)(81,0.4)(82,-0.6) (0,nan)
(79,-1.3)(80,-0.8)(81,-1.6)(82,-1.0)(83,-1.9) (0,nan)
(81,1.2)(82,1.9)(83,1.0)(84,0.5)(85,1.1) (0,nan)
(83,-0.4)(84,-1.1)(85,-0.5)(86,-1.4)(87,-3.0) (0,nan)
(85,0.5)(86,-0.2)(87,0.6)(88,-0.3)(89,0.4) (0,nan)
(88,-0.8)(89,-1.3)(90,-0.6)(91,-1.5) (0,nan)
(89,0.3)(90,1.7)(91,0.9)(92,0.5)(93,-0.5)(94,-1.0) (0,nan)
(92,-0.2)(93,-1.3)(94,-0.7)(95,0.2)(96,-0.5)(97,-1.2) (0,nan)
(76,-1.6)(77,-1.0)(78,-1.8)(79,-1.2) (0,nan)
(68,1.0)(69,0.2)(70,0.9)(71,0.0) (0,nan)
(86,0.9)(87,0.2)(88,1.0)(89,0.6)};
\addplot[spB] coordinates {(65,1.0)(66,0.3)(67,1.1)(68,0.2)(69,0.9) (0,nan)
(66,-0.5)(67,0.2)(68,-0.8)(69,-0.1)(70,-0.9) (0,nan)
(69,0.4)(70,-0.3)(71,0.7)(72,-0.2)(73,0.6)(74,-0.4) (0,nan)
(71,1.6)(72,0.8)(73,1.4)(74,0.4)(75,1.0) (0,nan)
(73,-1.2)(74,-0.5)(75,-1.4)(76,-0.7)(77,-1.6) (0,nan)
(75,0.5)(76,1.2)(77,0.3)(78,0.9)(79,-0.1)(80,0.6) (0,nan)
(78,-0.6)(79,0.1)(80,-0.9)(81,-0.2)(82,-1.1) (0,nan)
(80,1.0)(81,0.2)(82,0.8)(83,-0.1)(84,0.4) (0,nan)
(82,-1.5)(83,-0.9)(84,-1.8)(85,-1.2)(86,-2.0) (0,nan)
(84,0.0)(85,-0.6)(86,0.3)(87,-0.5)(88,0.2) (0,nan)
(87,-1.2)(88,-0.5)(89,-1.4)(90,-0.9) (0,nan)
(90,-0.2)(91,0.8)(92,-0.4)(93,0.1)};
\addplot[spB] coordinates {(66,0.6)(67,-0.2)(68,0.8)(69,-0.1)(70,0.7)(71,-0.3) (0,nan)
(68,-0.7)(69,0.0)(70,-0.8)(71,-0.1)(72,-1.0) (0,nan)
(70,0.4)(71,1.2)(72,0.3)(73,1.0)(74,0.0)(75,0.7) (0,nan)
(72,-0.1)(73,-0.9)(74,0.1)(75,-0.7)(76,0.2)(77,-0.8) (0,nan)
(74,1.1)(75,0.4)(76,1.3)(77,0.5)(78,0.9)(79,0.0) (0,nan)
(76,0.2)(77,-0.5)(78,0.4)(79,-0.6)(80,0.0)(81,-0.9) (0,nan)
(78,-1.4)(79,-0.7)(80,-1.6)(81,-1.0)(82,-1.9) (0,nan)
(80,0.3)(81,-0.4)(82,0.5)(83,-0.5)(84,0.2)(85,-0.7) (0,nan)
(83,-1.0)(84,-0.3)(85,-1.2)(86,-0.6)(87,-1.4) (0,nan)
(85,0.8)(86,0.1)(87,0.9)(88,0.0)(89,0.5) (0,nan)
(88,-0.3)(89,-1.0)(90,-0.4)(91,-1.2)(92,-0.7) (0,nan)
(73,-1.7)(74,-1.1)(75,-2.0)(76,-1.3)};
\addplot[spB] coordinates {(65,-0.2)(66,0.5)(67,-0.3)(68,0.4)(69,-0.5)(70,0.2) (0,nan)
(67,0.4)(68,1.3)(69,0.5)(70,1.1)(71,0.2)(72,0.9) (0,nan)
(69,-0.6)(70,0.1)(71,-0.9)(72,-0.2)(73,-1.1)(74,-0.3) (0,nan)
(71,0.3)(72,-0.6)(73,0.2)(74,-0.5)(75,0.4)(76,-0.4) (0,nan)
(73,1.8)(74,1.0)(75,1.6)(76,0.7)(77,1.3)(78,0.4) (0,nan)
(75,-0.9)(76,-0.2)(77,-1.1)(78,-0.4)(79,-1.2)(80,-0.5) (0,nan)
(77,-0.3)(78,0.5)(79,-0.4)(80,0.3)(81,-0.7)(82,0.0) (0,nan)
(79,0.9)(80,0.1)(81,0.8)(82,-0.2)(83,0.5)(84,-0.3) (0,nan)
(81,-1.2)(82,-0.5)(83,-1.4)(84,-0.8)(85,-1.6) (0,nan)
(83,0.4)(84,-0.4)(85,0.3)(86,-0.5)(87,0.1)(88,-0.7) (0,nan)
(86,-1.0)(87,-0.4)(88,-1.3)(89,-0.7)(90,-1.5) (0,nan)
(89,-0.2)(90,0.4)(91,-0.5)(92,0.0)(93,-0.8)};
\addplot[spG] coordinates {(65,1.0)(66,0.1)(67,1.3)(68,0.3)(69,1.1)(70,0.4) (0,nan)
(65,-0.5)(66,-1.1)(67,-0.4)(68,-1.0)(69,-0.2) (0,nan)
(67,2.0)(68,1.2)(69,1.9)(70,0.9)(71,1.6) (0,nan)
(70,-0.7)(71,0.1)(72,-0.9)(73,-0.2)(74,-1.4)(75,-0.6) (0,nan)
(72,1.5)(73,2.3)(74,1.4)(75,2.0)(76,1.0) (0,nan)
(75,0.3)(76,-0.5)(77,0.4)(78,-0.8)(79,-2.9) (0,nan)
(77,1.7)(78,0.8)(79,1.5)(80,2.6)(81,2.0)(82,1.1) (0,nan)
(79,-0.4)(80,0.5)(81,-0.6)(82,0.2)(83,-0.9) (0,nan)
(81,0.9)(82,0.1)(83,1.0)(84,0.3)(85,1.2) (0,nan)
(83,-1.2)(84,-0.5)(85,-1.4)(86,-0.8)(87,-1.7) (0,nan)
(69,-1.2)(70,-0.6)(71,-1.5)(72,-0.8) (0,nan)
(74,0.6)(75,-0.1)(76,0.9)(77,0.2)(78,1.0) (0,nan)
(85,0.2)(86,-0.4)(87,0.5)(88,-0.3) (0,nan)
(65,1.6)(66,0.7)(67,1.5)(68,2.3)(69,1.3) (0,nan)
(66,0.4)(67,-0.3)(68,0.6)(69,-0.4)(70,0.5) (0,nan)
(68,-0.1)(69,0.8)(70,-0.2)(71,0.6)(72,-0.4)(73,0.4) (0,nan)
(71,1.2)(72,0.3)(73,1.1)(74,0.2)(75,1.3) (0,nan)
(73,-0.9)(74,-0.1)(75,-1.1)(76,-0.4)(77,-1.3) (0,nan)
(76,0.7)(77,-0.1)(78,0.6)(79,-0.3)(80,0.4) (0,nan)
(80,-1.0)(81,-0.3)(82,-1.2)(83,-0.5) (0,nan)
(82,0.9)(83,0.1)(84,0.8)(85,-0.2)(86,0.5) (0,nan)
(65,0.3)(66,1.1)(67,0.2)(68,0.8)(69,-0.1) (0,nan)
(67,-0.7)(68,0.1)(69,-0.6)(70,0.2)(71,-0.5) (0,nan)
(70,1.4)(71,0.6)(72,1.3)(73,0.5)(74,1.1) (0,nan)
(72,0.1)(73,-0.6)(74,0.2)(75,-0.5)(76,0.3)(77,-0.6) (0,nan)
(75,1.6)(76,0.8)(77,1.4)(78,0.4)(79,0.9) (0,nan)
(78,-0.3)(79,0.4)(80,-0.5)(81,0.3)(82,-0.7)};
\addplot[spR] coordinates {(76,-0.5)(77,-1.2)(78,-0.6)(79,-1.4)(80,-0.9) (0,nan)
(78,0.5)(79,-0.2)(80,0.4)(81,-0.4)(82,0.2) (0,nan)
(80,-1.8)(81,-1.3)(82,-2.0)(83,-1.5)(84,-2.2) (0,nan)
(82,0.1)(83,-0.6)(84,0.0)(85,-0.9)(86,-0.3) (0,nan)
(84,-1.4)(85,-0.8)(86,-1.6)(87,-1.1)(88,-1.9) (0,nan)
(86,-2.2)(87,-1.8)(88,-2.4) (0,nan)
(87,0.3)(88,-0.4)(89,-0.1)(90,-0.8)(91,-0.4) (0,nan)
(89,-1.6)(90,-1.2)(91,-1.9)(92,-1.5)(93,-2.2)(94,-2.6) (0,nan)
(95,1.3)(97,1.1) (0,nan)
(80,-0.2)(81,-1.0)(82,-0.4)(83,-1.2) (0,nan)
(82,-3.1)(83,-2.5)(84,-2.8) (0,nan)
(91,-0.6)(92,-1.1)(93,-0.9)(94,-1.6)(95,-2.0)(96,-2.3) (0,nan)
(77,0.2)(78,-0.5)(79,0.3)(80,-0.6)(81,0.0) (0,nan)
(83,-0.8)(84,-1.6)(85,-1.0)(86,-1.9)(87,-1.3) (0,nan)
(85,0.4)(86,-0.2)(87,0.3)(88,-0.5)(89,-0.3) (0,nan)
(88,-1.0)(89,-0.6)(90,-1.3)(91,-1.0)(92,-1.6) (0,nan)
(90,-2.1)(91,-1.6)(92,-2.3) (0,nan)
(93,-0.6)(94,-1.2)(95,-0.9)(96,-1.5)};
\addplot[spK] coordinates {(65,1.3)(66,2.8)(67,1.6)(68,2.2)(69,0.8) (0,nan)
(65,-0.3)(66,0.6)(67,-1.3)(68,-0.5)(69,-1.6)(70,-2.0) (0,nan)
(66,0.2)(67,1.1)(68,0.4)(69,2.0)(70,1.3)(71,3.3)(72,1.0) (0,nan)
(68,1.8)(69,0.7)(70,1.5)(71,0.3)(72,1.1)(73,0.0) (0,nan)
(70,-0.4)(71,0.6)(72,-1.2)(73,-0.2)(74,-1.5)(75,-1.0) (0,nan)
(71,2.0)(72,2.6)(73,1.4)(74,2.3)(75,3.7)(76,3.3)(77,2.5) (0,nan)
(67,0.9)(68,-0.2)(69,0.5)(70,-0.8)(71,0.2) (0,nan)
(72,0.5)(73,1.6)(74,0.8)(75,1.5)(76,0.4)(77,0.9) (0,nan)
(65,0.8)(66,-0.4)(67,0.3)(68,1.2)(69,-0.3) (0,nan)
(73,-0.9)(74,-0.1)(75,-0.7)(76,0.2) (0,nan)
(69,2.3)(70,1.4)(71,-0.8)(72,-1.5)(73,-1.8) (0,nan)
(65,1.9)(66,1.0)(67,2.0)(68,0.9)(69,1.6) (0,nan)
(66,-0.9)(67,-0.1)(68,-1.2)(69,-0.4)(70,0.3) (0,nan)
(68,0.3)(69,1.4)(70,0.4)(71,1.2)(72,0.2)(73,0.9) (0,nan)
(70,2.1)(71,1.1)(72,1.9)(73,0.7)(74,1.4) (0,nan)
(71,-1.1)(72,-0.4)(73,-1.3)(74,-0.6) (0,nan)
(74,0.2)(75,0.9)(76,-0.1)(77,0.6)(78,1.5)(79,1.7)};
\addplot[trGray] coordinates {(65,0.45)(75,0.05)(85,-0.4)(95,-0.9)(100.2,-1.15)};
\addplot[trR] coordinates {(75,-0.1)(80,-0.45)(85,-0.85)(90,-1.3)(95,-1.72)(100,-2.13)};
\addplot[trB] coordinates {(65,0.32)(98,-0.99)};
\addplot[trG] coordinates {(65,0.55)(89,-0.43)};
\addplot[trK] coordinates {(65,0.77)(81,0.34)};
\end{axis}
\end{tikzpicture}
\end{document}
